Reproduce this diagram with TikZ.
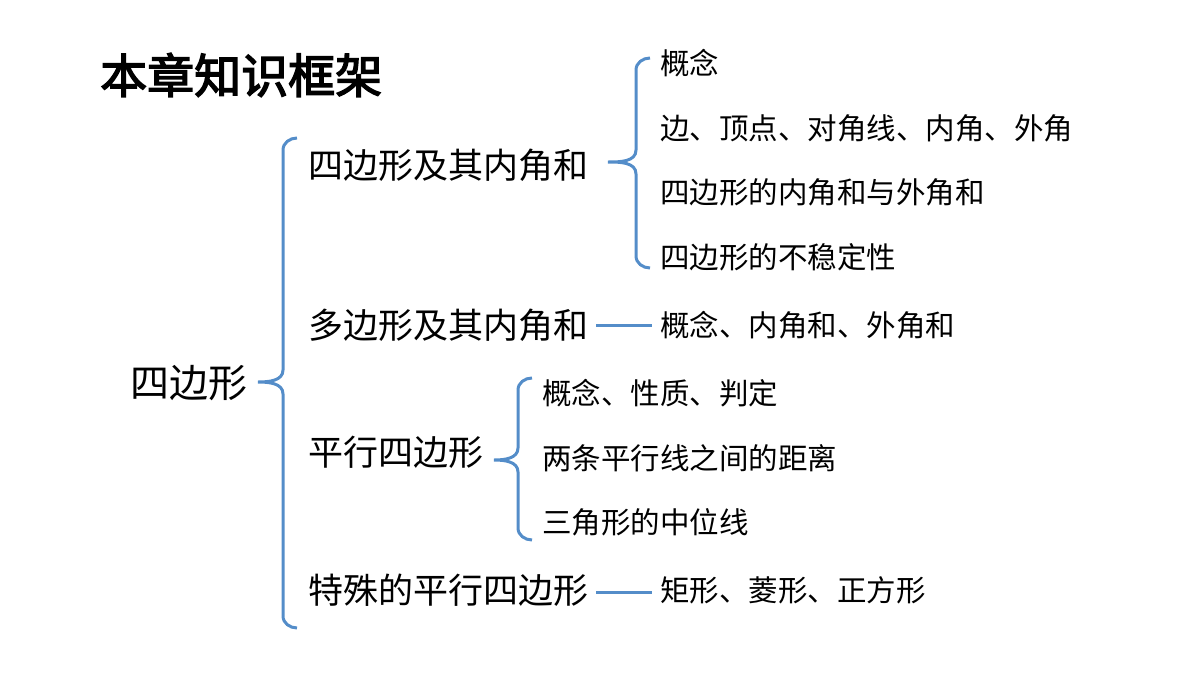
\documentclass[tikz,border=0pt]{standalone}
\usepackage{fontspec}
\newfontfamily\cjk{Noto Sans CJK SC}
\newfontfamily\cjkb{Noto Sans CJK SC}[FakeBold=3]
\begin{document}
\begin{tikzpicture}[x=1pt,y=-1pt,
  br/.style={draw={rgb,255:red,84;green,141;blue,201},line width=3pt},
  t1/.style={anchor=west,inner sep=0,font=\cjk\fontsize{35}{35}\selectfont},
  t2/.style={anchor=west,inner sep=0,font=\cjk\fontsize{29.5}{30}\selectfont}]
\useasboundingbox (0,0) rectangle (1200,675);
\node[anchor=west,inner sep=0,font=\cjkb\fontsize{47}{47}\selectfont] (title) at (100,75) {本章知识框架};
\node[anchor=west,inner sep=0,font=\cjk\fontsize{39}{39}\selectfont] (root) at (130,383) {四边形};
\node[t1] (a) at (308,165) {四边形及其内角和};
\node[t1] (b) at (308,325) {多边形及其内角和};
\node[t1] (c) at (308,452) {平行四边形};
\node[t1] (d) at (308,590) {特殊的平行四边形};
\node[t2] (a1) at (660,63) {概念};
\node[t2] (a2) at (660,128) {边、顶点、对角线、内角、外角};
\node[t2] (a3) at (660,192) {四边形的内角和与外角和};
\node[t2] (a4) at (660,257) {四边形的不稳定性};
\node[t2] (b1) at (660,325) {概念、内角和、外角和};
\node[t2] (c1) at (542,393) {概念、性质、判定};
\node[t2] (c2) at (542,458) {两条平行线之间的距离};
\node[t2] (c3) at (542,522) {三角形的中位线};
\node[t2] (d1) at (660,590) {矩形、菱形、正方形};
\newcommand\mybrace[5]{%
  \draw[br] (#1+14,#2) to[out=180,in=90] (#1,#2+12) -- (#1,#4-12) to[out=-90,in=0] (#5,#4) to[out=0,in=90] (#1,#4+12) -- (#1,#3-12) to[out=-90,in=180] (#1+14,#3);}
\mybrace{283}{138}{628}{382}{258}
\mybrace{636}{58}{268}{162}{608}
\mybrace{518}{378}{540}{460}{494}
\draw[br] (596,325) -- (b1.west -| 652,0);
\draw[br] (596,592) -- (652,592);
\end{tikzpicture}
\end{document}
